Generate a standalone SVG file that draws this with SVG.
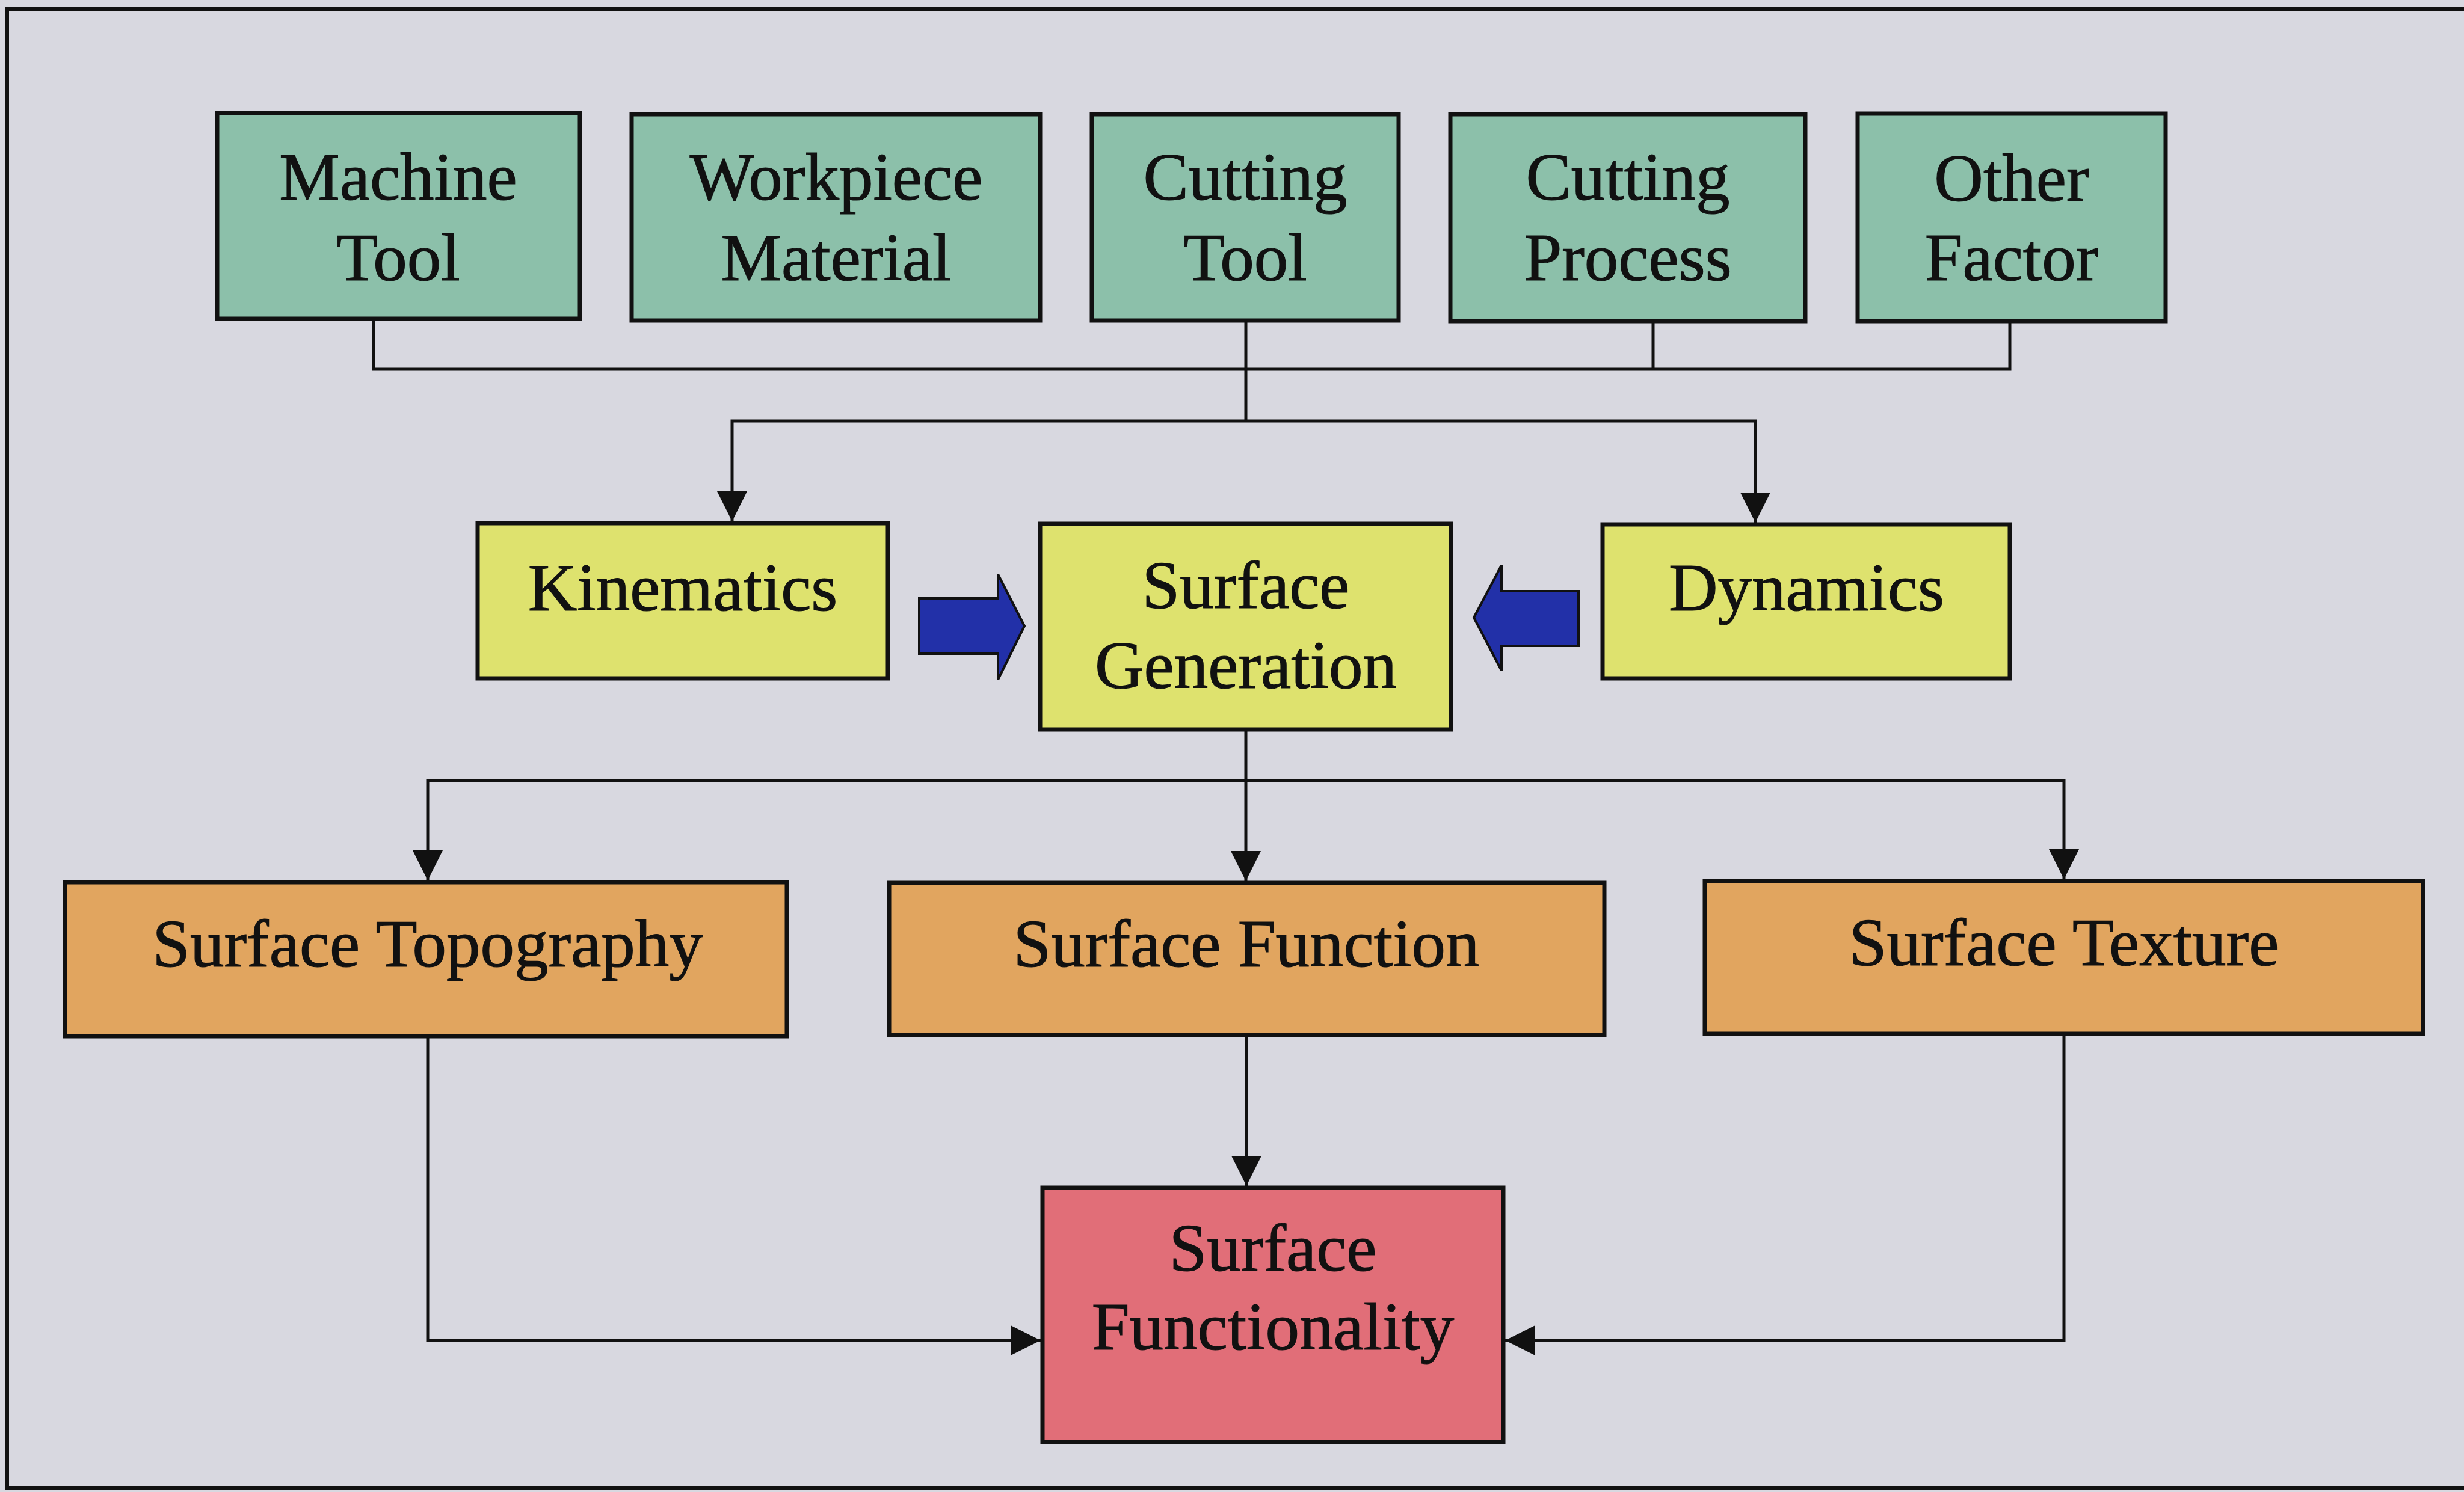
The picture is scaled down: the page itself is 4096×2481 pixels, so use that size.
<svg xmlns="http://www.w3.org/2000/svg" width="4096" height="2481" viewBox="0 0 4096 2481">
<style>
.box{stroke:#111;stroke-width:7}
.teal{fill:#8cc0aa}.yel{fill:#dee26e}.org{fill:#e1a55f}.pink{fill:#e16e78}
.t{font-family:"Liberation Serif","Times New Roman",serif;font-size:113px;fill:#111;stroke:#111;stroke-width:1.2;text-anchor:middle}
.c{fill:none;stroke:#111;stroke-width:5}
.blue{fill:#2230a8;stroke:#111;stroke-width:4}
</style>
<defs>
<marker id="ah" markerUnits="userSpaceOnUse" markerWidth="52" markerHeight="50" refX="50" refY="25" orient="auto">
<path d="M0,0 L50,25 L0,50 z" fill="#111"/>
</marker>
</defs>
<rect x="0" y="0" width="4096" height="2481" fill="#d8d8e0"/>
<path d="M4096,15 L12,15 L12,2474 L4096,2474" fill="none" stroke="#111" stroke-width="6"/>
<g id="connectors">
<path class="c" d="M621,530 V614 H3341 V533"/>
<path class="c" d="M2748,534 V614"/>
<path class="c" d="M2071,533 V700"/>
<path class="c" d="M2071,700 H1217 V867" marker-end="url(#ah)"/>
<path class="c" d="M2071,700 H2918 V869" marker-end="url(#ah)"/>
<path class="c" d="M2071,1213 V1298"/>
<path class="c" d="M2071,1298 H711 V1464" marker-end="url(#ah)"/>
<path class="c" d="M2071,1298 V1465" marker-end="url(#ah)"/>
<path class="c" d="M2071,1298 H3431 V1462" marker-end="url(#ah)"/>
<path class="c" d="M2072,1721 V1972" marker-end="url(#ah)"/>
<path class="c" d="M711,1723 V2229 H1730" marker-end="url(#ah)"/>
<path class="c" d="M3431,1719 V2229 H2502" marker-end="url(#ah)"/>
<path id="arrow-kin" class="blue" d="M1528,995 H1659 V955 L1703,1041 L1659,1130 V1087 H1528 z"/>
<path id="arrow-dyn" class="blue" d="M2624,983 H2496 V940 L2450,1027 L2496,1115 V1074 H2624 z"/>
</g>
<g id="machine-tool"><rect class="box teal" x="361" y="188" width="603" height="342"/><text class="t" x="662" y="332">Machine</text><text class="t" x="662" y="466">Tool</text></g>
<g id="workpiece-material"><rect class="box teal" x="1050" y="190" width="679" height="343"/><text class="t" x="1390" y="332">Workpiece</text><text class="t" x="1390" y="466">Material</text></g>
<g id="cutting-tool"><rect class="box teal" x="1815" y="190" width="510" height="343"/><text class="t" x="2070" y="332">Cutting</text><text class="t" x="2070" y="466">Tool</text></g>
<g id="cutting-process"><rect class="box teal" x="2411" y="190" width="590" height="344"/><text class="t" x="2706" y="332">Cutting</text><text class="t" x="2706" y="466">Process</text></g>
<g id="other-factor"><rect class="box teal" x="3088" y="189" width="512" height="345"/><text class="t" x="3344" y="334">Other</text><text class="t" x="3344" y="466">Factor</text></g>
<g id="kinematics"><rect class="box yel" x="794" y="870" width="682" height="258"/><text class="t" x="1135" y="1015">Kinematics</text></g>
<g id="surface-generation"><rect class="box yel" x="1729" y="871" width="683" height="342"/><text class="t" x="2071" y="1011">Surface</text><text class="t" x="2071" y="1144">Generation</text></g>
<g id="dynamics"><rect class="box yel" x="2664" y="872" width="677" height="256"/><text class="t" x="3003" y="1015">Dynamics</text></g>
<g id="surface-topography"><rect class="box org" x="108" y="1467" width="1200" height="256"/><text class="t" x="711" y="1607">Surface Topography</text></g>
<g id="surface-function"><rect class="box org" x="1478" y="1468" width="1189" height="253"/><text class="t" x="2072" y="1607">Surface Function</text></g>
<g id="surface-texture"><rect class="box org" x="2834" y="1465" width="1194" height="254"/><text class="t" x="3431" y="1605">Surface Texture</text></g>
<g id="surface-functionality"><rect class="box pink" x="1733" y="1975" width="766" height="423"/><text class="t" x="2116" y="2113">Surface</text><text class="t" x="2116" y="2244">Functionality</text></g>
</svg>
